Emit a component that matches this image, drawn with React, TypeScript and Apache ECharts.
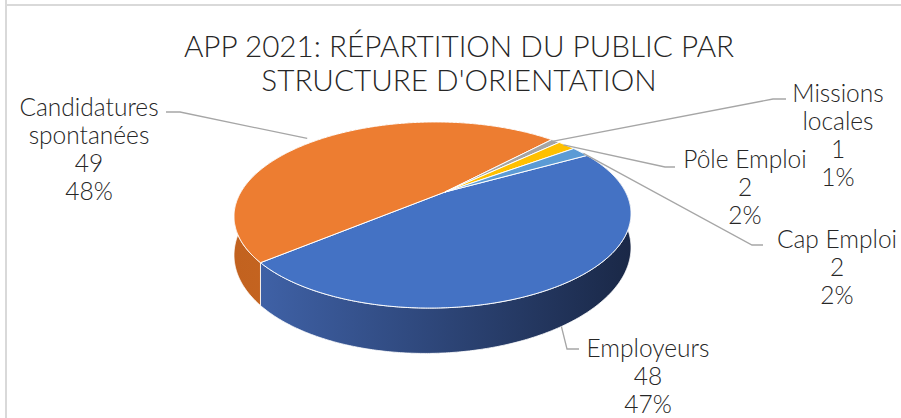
import React, { useEffect, useRef } from "react";
import * as echarts from "echarts";

// ---- data ----
const categories = ["Employeurs", "Candidatures spontanées", "Missions locales", "Pôle Emploi", "Cap Emploi"];
const labelNames = ["Employeurs", "Candidatures\nspontanées", "Missions\nlocales", "Pôle Emploi", "Cap Emploi"];
const values = [48, 49, 1, 2, 2];
const titleLines = ["APP 2021: RÉPARTITION DU PUBLIC PAR", "STRUCTURE D'ORIENTATION"];

// ---- styles ----
const topColors = ["#4472C4", "#ED7D31", "#A5A5A5", "#FFC000", "#5B9BD5"];
const sideColors = [
  ["#3f61a6", "#1a2847"],
  ["#c2621f", "#d4702a"],
  ["#7c7c7c", "#8a8a8a"],
  ["#bf9000", "#cc9a00"],
  ["#41719c", "#4a7fb0"],
];
const FONT = "Lato";
const TEXT_COLOR = "#262626";
const TITLE_SIZE = 29.7;
const TITLE_CENTER_X = 459;

// ---- layout (3D projection) ----
const START_DEG = -29.5;
const GEO = { cx: 445, cy: 192, rx: 191.6, ry: 87.2, a: 0.2468, b: -0.061, h: 34 };

const labelLayout = [
  { x: 648, y: 375, line: [[579, 349], [567, 349]], frac: 0.53, level: 1, r: 1.0 },
  { x: 89, y: 148, line: [[166, 112], [180, 112]], frac: 0.466, level: 0, r: 1.06 },
  { x: 838, y: 134, line: [[786, 99], [773, 99]], frac: 0.25, level: 0, r: 0.97 },
  { x: 745, y: 186, line: [[675, 167], [665, 167]], frac: 0.35, level: 0, r: 0.99 },
  { x: 837, y: 266, line: [[763, 245], [752, 245]], frac: 0.72, level: 0, r: 1.0 },
];

function proj(deg: number, r: number, level: number): number[] {
  const t = (deg * Math.PI) / 180;
  const u = r * Math.cos(t);
  const v = r * Math.sin(t);
  const s = 1 / (1 - GEO.a * v - GEO.b * u);
  return [GEO.cx + GEO.rx * u * s, GEO.cy + (GEO.ry * v + level * GEO.h) * s];
}

export default function App() {
  const ref = useRef<HTMLDivElement>(null);
  useEffect(() => {
    if (!ref.current) return;
    const chart = echarts.init(ref.current, null, { renderer: "svg" });
    const total = values.reduce((p, c) => p + c, 0);

    const renderItem = (params: any, api: any) => {
      const i = params.dataIndex;
      let before = 0;
      for (let j = 0; j < i; j++) before += values[j];
      const v = api.value(0);
      const a0 = START_DEG + (before / total) * 360;
      const a1 = a0 + (v / total) * 360;
      const n = Math.max(2, Math.ceil((a1 - a0) / 0.5));
      const topArc: number[][] = [];
      const botArc: number[][] = [];
      for (let k = 0; k <= n; k++) {
        const d = a0 + ((a1 - a0) * k) / n;
        topArc.push(proj(d, 1, 0));
        botArc.push(proj(d, 1, 1));
      }
      const side = topArc.concat(botArc.slice().reverse());
      const top = [proj(0, 0, 0)].concat(topArc);
      const lay = labelLayout[i];
      const anchor = proj(a0 + lay.frac * (a1 - a0), lay.r, lay.level);
      const pct = Math.round((v / total) * 100);
      return {
        type: "group",
        children: [
          {
            type: "polygon",
            z2: 1,
            shape: { points: side },
            style: {
              fill: new echarts.graphic.LinearGradient(0, 0, 1, 0, [
                { offset: 0, color: sideColors[i][0] },
                { offset: 1, color: sideColors[i][1] },
              ]),
              stroke: "#ffffff",
              lineWidth: 0.8,
            },
          },
          {
            type: "polygon",
            z2: 5,
            shape: { points: top },
            style: { fill: topColors[i], stroke: "#ffffff", lineWidth: 1 },
          },
          {
            type: "polyline",
            z2: 8,
            shape: { points: [lay.line[0], lay.line[1], anchor] },
            style: { stroke: "#a6a6a6", lineWidth: 1.3, fill: "none" },
          },
          {
            type: "text",
            z2: 9,
            style: {
              text: `${labelNames[i]}\n${v}\n${pct}%`,
              x: lay.x,
              y: lay.y,
              align: "center",
              verticalAlign: "middle",
              fontFamily: FONT,
              fontWeight: 300,
              fontSize: 24.5,
              lineHeight: 28,
              fill: TEXT_COLOR,
            },
          },
        ],
      };
    };

    chart.setOption({
      animation: false,
      backgroundColor: "#ffffff",
      title: {
        text: titleLines.join("\n"),
        left: TITLE_CENTER_X,
        top: 28,
        padding: 0,
        textAlign: "center",
        textStyle: {
          fontFamily: FONT,
          fontSize: TITLE_SIZE,
          fontWeight: 300,
          lineHeight: 34,
          color: TEXT_COLOR,
        },
      },
      graphic: [
        {
          type: "rect",
          shape: { x: 6, y: 5, width: 1000, height: 1000 },
          style: { fill: "none", stroke: "#d9d9d9", lineWidth: 2 },
          silent: true,
        },
        {
          type: "line",
          shape: { x1: 6, y1: 0, x2: 6, y2: 5 },
          style: { stroke: "#d9d9d9", lineWidth: 2 },
          silent: true,
        },
      ],
      series: [
        {
          type: "custom",
          coordinateSystem: "none",
          data: values.map((v, i) => ({ name: categories[i], value: [v, i] })),
          renderItem,
        },
      ],
    });
    return () => chart.dispose();
  }, []);
  return (
    <div
      ref={ref}
      style={{ position: "fixed", left: 0, top: 0, width: 901, height: 418 }}
    />
  );
}
